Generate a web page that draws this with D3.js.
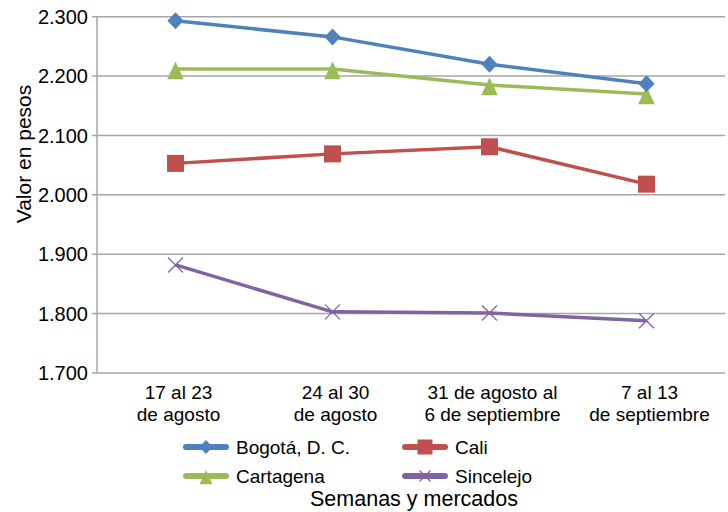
<!DOCTYPE html>
<html><head><meta charset="utf-8">
<script src="https://cdn.jsdelivr.net/npm/d3@7"></script>
<style>body{margin:0;background:#fff}svg{display:block;font-family:"Liberation Sans",Arial,sans-serif}</style>
</head><body><svg id="c" width="728" height="512"></svg>
<script>
const categories = [["17 al 23","de agosto"],["24 al 30","de agosto"],["31 de agosto al","6 de septiembre"],["7 al 13","de septiembre"]];
const bogota = [2293, 2266, 2220, 2187];
const cali = [2053, 2069, 2081, 2018];
const cartagena = [2212, 2212, 2185, 2170];
const sincelejo = [1882, 1803, 1801, 1788];
const yTicks = [1700, 1800, 1900, 2000, 2100, 2200, 2300];
const seriesNames = ["Bogotá, D. C.", "Cali", "Cartagena", "Sincelejo"];

const series = [
  {name: seriesNames[0], values: bogota, color: "#4F81BD", sym: "diamond"},
  {name: seriesNames[1], values: cali, color: "#C0504D", sym: "square"},
  {name: seriesNames[2], values: cartagena, color: "#9BBB59", sym: "triangle"},
  {name: seriesNames[3], values: sincelejo, color: "#8064A2", sym: "x"}
];

const svg = d3.select("#c");
const L = 97, R = 725, T = 16.7, B = 373;
const x = d3.scaleBand().domain(d3.range(categories.length)).range([L, R]);
const y = d3.scaleLinear().domain([1700, 2300]).range([B, T]);
const fmtT = v => { const s = String(v); return s[0] + "." + s.slice(1); };

// gridlines
svg.append("g").selectAll("line").data(yTicks).join("line")
  .attr("x1", L - 5).attr("x2", R).attr("y1", d => y(d)).attr("y2", d => y(d))
  .attr("stroke", "#a6a6a6").attr("stroke-width", 1.5);
// y axis line
svg.append("line").attr("x1", L).attr("x2", L).attr("y1", T).attr("y2", B)
  .attr("stroke", "#a6a6a6").attr("stroke-width", 1.5);
// y tick labels
svg.append("g").selectAll("text").data(yTicks).join("text")
  .attr("x", L - 9).attr("y", d => y(d)).attr("dy", "0.36em")
  .attr("text-anchor", "end").attr("font-size", 20).attr("fill", "#000")
  .text(fmtT);
// x labels
const xl = svg.append("g").selectAll("text").data(categories).join("text")
  .attr("text-anchor", "middle").attr("font-size", 19).attr("fill", "#000");
xl.each(function(d, i) {
  const t = d3.select(this);
  d.forEach((s, j) => t.append("tspan").attr("x", x(i) + x.bandwidth()/2 + 3).attr("y", 399 + j*21.5).text(s));
});
// axis titles
svg.append("text").attr("transform", "translate(31,154) rotate(-90)")
  .attr("text-anchor", "middle").attr("font-size", 21).text("Valor en pesos");
svg.append("text").attr("x", 414).attr("y", 506).attr("text-anchor", "middle")
  .attr("font-size", 21.5).text("Semanas y mercados");

const cx = i => x(i) + x.bandwidth()/2;
const line = d3.line().x((d, i) => cx(i)).y(d => y(d));

function marker(g, sym, color, px, py, s) {
  if (sym === "diamond") {
    g.append("path").attr("d", `M${px},${py - s}L${px + s*0.95},${py}L${px},${py + s}L${px - s*0.95},${py}Z`).attr("fill", color);
  } else if (sym === "square") {
    g.append("rect").attr("x", px - s).attr("y", py - s).attr("width", 2*s).attr("height", 2*s).attr("fill", color);
  } else if (sym === "triangle") {
    g.append("path").attr("d", `M${px},${py - s*0.9}L${px + s},${py + s*1.25}L${px - s},${py + s*1.25}Z`).attr("fill", color);
  } else {
    g.append("path").attr("d", `M${px - s},${py - s}L${px + s},${py + s}M${px + s},${py - s}L${px - s},${py + s}`)
      .attr("stroke", color).attr("stroke-width", 1.3).attr("fill", "none");
  }
}

const plotOrder = [3, 1, 2, 0];
plotOrder.forEach(k => {
  const s = series[k];
  const g = svg.append("g");
  g.append("path").datum(s.values).attr("d", line).attr("fill", "none")
    .attr("stroke", s.color).attr("stroke-width", 3.5).attr("stroke-linejoin", "round");
  const sz = s.sym === "diamond" ? 8.5 : s.sym === "square" ? 8.5 : s.sym === "triangle" ? 8.3 : 7.5;
  s.values.forEach((v, i) => marker(g, s.sym, s.color, cx(i), y(v), sz));
});

// legend
const legPos = [[183, 447], [402, 447], [183, 476], [402, 476]];
series.forEach((s, k) => {
  const [lx, ly] = legPos[k];
  const g = svg.append("g");
  g.append("line").attr("x1", lx + 3).attr("x2", lx + 43).attr("y1", ly).attr("y2", ly)
    .attr("stroke", s.color).attr("stroke-width", 6).attr("stroke-linecap", "round");
  const sz = s.sym === "diamond" ? 7 : s.sym === "square" ? 7.5 : s.sym === "triangle" ? 6.5 : 5.5;
  marker(g, s.sym, s.color, lx + 23, ly, sz);
  g.append("text").attr("x", lx + 53).attr("y", ly).attr("dy", "0.36em")
    .attr("font-size", 19).attr("fill", "#000").text(s.name);
});
</script></body></html>
